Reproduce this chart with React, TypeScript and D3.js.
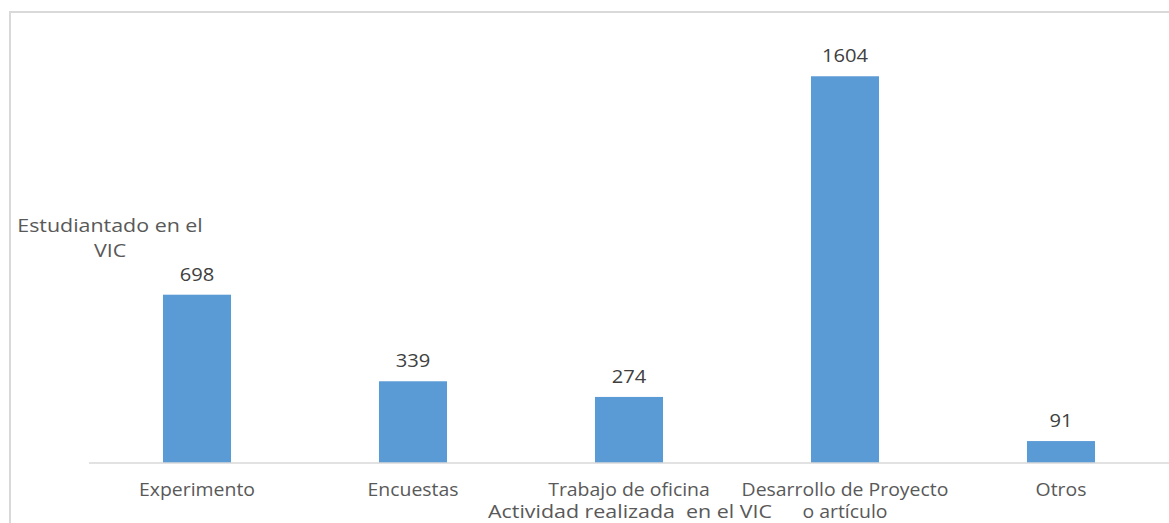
import React from "react";
import * as d3 from "d3";

const categories: string[][] = [
  ["Experimento"],
  ["Encuestas"],
  ["Trabajo de oficina"],
  ["Desarrollo de Proyecto", "o artículo"],
  ["Otros"],
];
const values: number[] = [698, 339, 274, 1604, 91];
const yTitle: string[] = ["Estudiantado en el", "VIC"];
const xTitle = "Actividad realizada  en el VIC";

const W = 1169;
const H = 523;
const FONT = "'Open Sans', 'Liberation Sans', sans-serif";

function T({
  x,
  y,
  s,
  size,
  fill,
  children,
}: {
  x: number;
  y: number;
  s: number;
  size: number;
  fill: string;
  children: React.ReactNode;
}) {
  return (
    <text
      transform={`translate(${x},${y}) scale(${s},1)`}
      textAnchor="middle"
      fontSize={size}
      fill={fill}
      style={{ whiteSpace: "pre" }}
    >
      {children}
    </text>
  );
}

export default function App() {
  const left = 89;
  const right = 1169;
  const baseY = 463;
  const x = d3
    .scaleBand<number>()
    .domain(d3.range(values.length))
    .range([left, right])
    .paddingInner(0.685)
    .paddingOuter(0.3425);
  const y = d3.scaleLinear().domain([0, 1800]).range([baseY, 29]);

  return (
    <svg
      width={W}
      height={H}
      style={{ position: "absolute", left: 0, top: 0, background: "#fff" }}
      fontFamily={FONT}
    >
      <rect x={0} y={0} width={W} height={H} fill="#fff" />
      <path d={`M10,${H} V12 H${W}`} fill="none" stroke="#d9d9d9" strokeWidth={2} />
      {values.map((v, i) => {
        const cx = (x(i) as number) + x.bandwidth() / 2;
        return (
          <g key={i}>
            <rect x={x(i)} y={y(v)} width={x.bandwidth()} height={baseY - y(v)} fill="#5b9bd5" />
            <T x={cx} y={y(v) - 14} s={1.12} size={18} fill="#404040">
              {v}
            </T>
            {categories[i].map((line, j) => (
              <T key={j} x={cx} y={496 + j * 22} s={1.08} size={18} fill="#595959">
                {line}
              </T>
            ))}
          </g>
        );
      })}
      <line x1={left} x2={right} y1={baseY} y2={baseY} stroke="#d9d9d9" strokeWidth={1.5} />
      <T x={630} y={518} s={1.19} size={18} fill="#595959">
        {xTitle}
      </T>
      {yTitle.map((t, j) => (
        <T key={j} x={110} y={232 + j * 25} s={1.19} size={18} fill="#595959">
          {t}
        </T>
      ))}
    </svg>
  );
}
